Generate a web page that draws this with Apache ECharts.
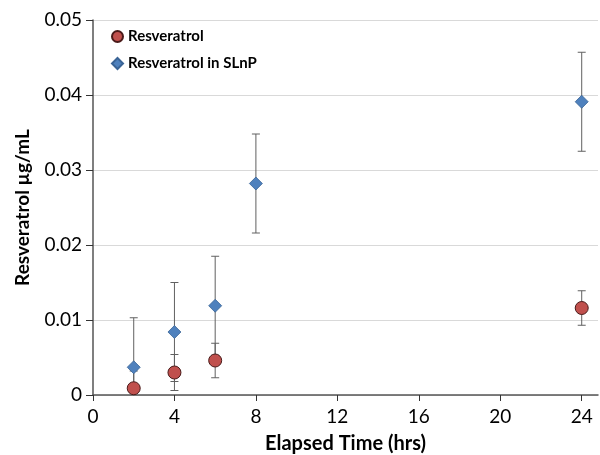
<!DOCTYPE html>
<html>
<head>
<meta charset="utf-8">
<script src="https://cdn.jsdelivr.net/npm/echarts@6/dist/echarts.min.js"></script>
<style>
  html, body { margin: 0; padding: 0; background: #fff; }
  #chart { width: 600px; height: 455px; }
</style>
</head>
<body>
<div id="chart"></div>
<script>
// data
var hours = [2, 4, 6, 24];
var resv = [0.0009, 0.0030, 0.0046, 0.0116];
var resvErr = [0.0023, 0.0024, 0.0023, 0.0023];

var slnpHours = [2, 4, 6, 8, 24];
var slnp = [0.0037, 0.0084, 0.0119, 0.0282, 0.0391];
var slnpErr = [0.0066, 0.0066, 0.0066, 0.0066, 0.0066];

var xTicks = [0, 4, 8, 12, 16, 20, 24];

var font = 'Lato, "Open Sans", sans-serif';

function pts(xs, ys) {
    return xs.map(function (x, i) { return [x, ys[i]]; });
}
function errPts(xs, ys, es) {
    return xs.map(function (x, i) { return [x, ys[i] - es[i], ys[i] + es[i]]; });
}

// error bar renderer
function renderErr(params, api) {
    var x = api.value(0);
    var lo = api.coord([x, api.value(1)]);
    var hi = api.coord([x, api.value(2)]);
    var w = 4;
    var style = { stroke: '#606060', lineWidth: 1 };
    var clip = {
        x: params.coordSys.x, y: params.coordSys.y,
        width: params.coordSys.width, height: params.coordSys.height
    };
    var children = [
        { type: 'line', shape: { x1: lo[0], y1: lo[1], x2: hi[0], y2: hi[1] }, style: style },
        { type: 'line', shape: { x1: hi[0] - w, y1: hi[1], x2: hi[0] + w, y2: hi[1] }, style: style }
    ];
    if (lo[1] <= clip.y + clip.height) {
        children.push({ type: 'line', shape: { x1: lo[0] - w, y1: lo[1], x2: lo[0] + w, y2: lo[1] }, style: style });
    }
    return {
        type: 'group',
        children: children,
        clipPath: { type: 'rect', shape: clip }
    };
}

var myChart = echarts.init(document.getElementById('chart'));

var option = {
    animation: false,
    backgroundColor: '#fff',
    grid: { left: 93, right: 2, top: 20, bottom: 60, containLabel: false, outerBoundsMode: 'none' },
    legend: {
        orient: 'vertical',
        left: 106,
        top: 24,
        itemGap: 12,
        itemWidth: 11,
        itemHeight: 11,
        textStyle: { fontFamily: font, fontWeight: 'bold', fontSize: 15, color: '#000' },
        data: [
            { name: 'Resveratrol', icon: 'circle' },
            { name: 'Resveratrol in SLnP', icon: 'diamond' }
        ]
    },
    xAxis: {
        type: 'value',
        min: 0,
        max: 24.8,
        name: 'Elapsed Time (hrs)',
        nameLocation: 'middle',
        nameGap: 39,
        nameTextStyle: { fontFamily: font, fontWeight: 'bold', fontSize: 20, color: '#000' },
        axisLine: { lineStyle: { color: '#555', width: 1.5 } },
        axisTick: { show: true, length: 6, customValues: xTicks, lineStyle: { color: '#333' } },
        axisLabel: { customValues: xTicks, fontFamily: font, fontSize: 19, color: '#000', margin: 12 },
        splitLine: { show: false }
    },
    yAxis: {
        type: 'value',
        min: 0,
        max: 0.05,
        interval: 0.01,
        name: 'Resveratrol µg/mL',
        nameLocation: 'middle',
        nameGap: 61,
        nameTextStyle: { fontFamily: font, fontWeight: 'bold', fontSize: 19, color: '#000' },
        axisLine: { show: true, lineStyle: { color: '#555', width: 1.5 } },
        axisTick: { show: true, length: 7, lineStyle: { color: '#333' } },
        axisLabel: {
            fontFamily: font, fontSize: 19, color: '#000', margin: 11,
            formatter: function (v) { return v === 0 ? '0' : v.toFixed(2); }
        },
        splitLine: { show: true, lineStyle: { color: '#d9d9d9', width: 1 } }
    },
    series: [
        {
            name: 'slnpErr',
            type: 'custom',
            renderItem: renderErr,
            data: errPts(slnpHours, slnp, slnpErr),
            encode: { x: 0, y: [1, 2] },
            z: 1,
            silent: true
        },
        {
            name: 'resvErr',
            type: 'custom',
            renderItem: renderErr,
            data: errPts(hours, resv, resvErr),
            encode: { x: 0, y: [1, 2] },
            z: 1,
            silent: true
        },
        {
            name: 'Resveratrol in SLnP',
            type: 'scatter',
            symbol: 'diamond',
            symbolSize: 13,
            data: pts(slnpHours, slnp),
            itemStyle: { color: '#4f81bd', borderColor: '#3a6496', borderWidth: 0.8, opacity: 1 },
            z: 3
        },
        {
            name: 'Resveratrol',
            type: 'scatter',
            symbol: 'circle',
            symbolSize: 13,
            data: pts(hours, resv),
            itemStyle: { color: '#c0504d', borderColor: '#4a1a19', borderWidth: 1, opacity: 1 },
            z: 4
        }
    ]
};

myChart.setOption(option);
</script>
</body>
</html>
